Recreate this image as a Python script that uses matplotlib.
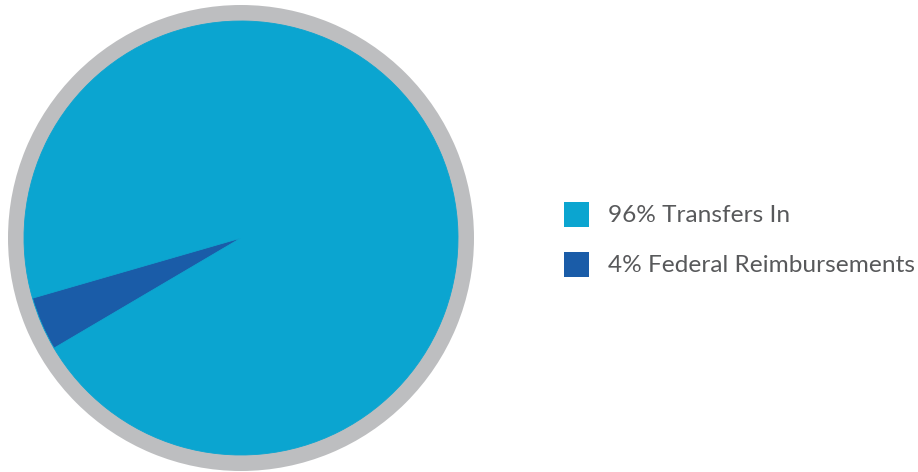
import matplotlib
matplotlib.use("Agg")
import matplotlib.pyplot as plt
from matplotlib.patches import Rectangle

labels = ["Transfers In", "Federal Reimbursements"]
shares = [96, 4]
colors = ["#0ba5d0", "#1a5ca8"]
ring_color = "#bdbec0"
text_color = "#58595b"

W, H = 918, 472
fig = plt.figure(figsize=(W / 100, H / 100), dpi=100)

# pie area: outer ring radius 233 px centred at (241, 238)
cx, cy, R = 241, 238, 233
ax = fig.add_axes([(cx - R) / W, (H - cy - R) / H, 2 * R / W, 2 * R / H])
ax.pie([1], radius=1.0, colors=[ring_color], startangle=90,
       wedgeprops=dict(linewidth=0))
ax.pie(shares, radius=217 / 233, colors=colors, startangle=210.5,
       counterclock=True, wedgeprops=dict(linewidth=0.6, edgecolor=colors[0]))
ax.set_xlim(-1, 1)
ax.set_ylim(-1, 1)
ax.set_aspect("equal")
ax.axis("off")

# legend
for i, (lab, val, col) in enumerate(zip(labels, shares, colors)):
    yc = 214.5 + 50 * i
    fig.patches.append(Rectangle(((564) / W, (H - yc - 12.5) / H), 25 / W, 25 / H,
                                 transform=fig.transFigure, facecolor=col,
                                 edgecolor="none"))
    fig.text(608 / W, (H - yc - 0.5) / H, f"{val}% {lab}", fontsize=17.6,
             family="Lato", color=text_color, va="center", ha="left")

fig.savefig("out.png", dpi=100)
